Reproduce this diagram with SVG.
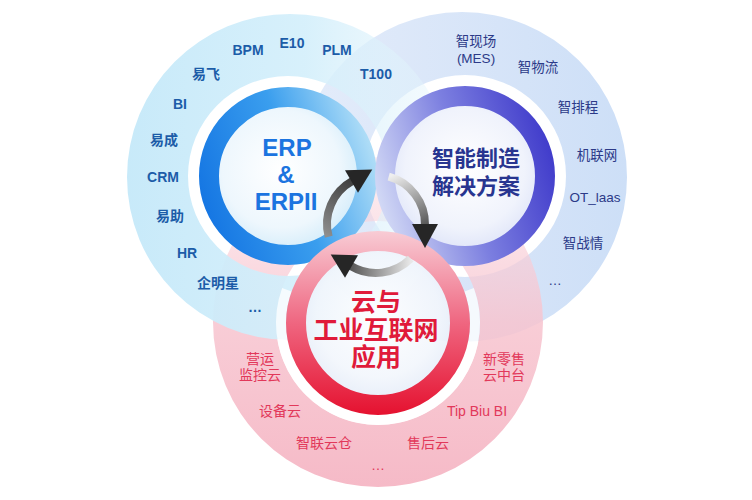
<svg xmlns="http://www.w3.org/2000/svg" width="752" height="500" viewBox="0 0 752 500">
<defs>
<linearGradient id="gBlueBig" gradientUnits="userSpaceOnUse" x1="127" y1="177" x2="453" y2="177">
<stop offset="0" stop-color="#c6e9f9" stop-opacity="0.97"/>
<stop offset="0.55" stop-color="#d4effb" stop-opacity="0.92"/>
<stop offset="1" stop-color="#e6f5fc" stop-opacity="0.35"/>
</linearGradient>
<linearGradient id="gPurpleBig" gradientUnits="userSpaceOnUse" x1="627" y1="177" x2="297" y2="177">
<stop offset="0" stop-color="#cddff7"/>
<stop offset="1" stop-color="#e4ecfa"/>
</linearGradient>
<linearGradient id="gPinkBig" gradientUnits="userSpaceOnUse" x1="378" y1="487" x2="378" y2="157">
<stop offset="0" stop-color="#f5b6c4" stop-opacity="0.95"/>
<stop offset="0.5" stop-color="#f7c4cf" stop-opacity="0.85"/>
<stop offset="1" stop-color="#fadbe2" stop-opacity="0.45"/>
</linearGradient>
<linearGradient id="gErpRing" gradientUnits="userSpaceOnUse" x1="200" y1="190" x2="378" y2="130">
<stop offset="0" stop-color="#1677e3"/>
<stop offset="0.5" stop-color="#3a9eee"/>
<stop offset="1" stop-color="#bfe6f8"/>
</linearGradient>
<linearGradient id="gMfgRing" gradientUnits="userSpaceOnUse" x1="556" y1="150" x2="375" y2="205">
<stop offset="0" stop-color="#3e39ca"/>
<stop offset="0.5" stop-color="#7c7fe0"/>
<stop offset="1" stop-color="#d6ddf6"/>
</linearGradient>
<linearGradient id="gCloudRing" gradientUnits="userSpaceOnUse" x1="378" y1="415" x2="378" y2="231">
<stop offset="0" stop-color="#e5112f"/>
<stop offset="0.5" stop-color="#ef6680"/>
<stop offset="1" stop-color="#f8ccd5"/>
</linearGradient>
<radialGradient id="gErpIn" cx="0.45" cy="0.45" r="0.6">
<stop offset="0" stop-color="#ffffff"/>
<stop offset="0.7" stop-color="#eef7fd"/>
<stop offset="1" stop-color="#d3ecfa"/>
</radialGradient>
<radialGradient id="gMfgIn" cx="0.5" cy="0.45" r="0.6">
<stop offset="0" stop-color="#ffffff"/>
<stop offset="0.7" stop-color="#f0f3fc"/>
<stop offset="1" stop-color="#dde3f8"/>
</radialGradient>
<radialGradient id="gCloudIn" cx="0.5" cy="0.45" r="0.6">
<stop offset="0" stop-color="#ffffff"/>
<stop offset="0.7" stop-color="#f2f6fc"/>
<stop offset="1" stop-color="#e4ebf8"/>
</radialGradient>
<linearGradient id="gArrA" gradientUnits="userSpaceOnUse" x1="329" y1="237" x2="372" y2="170">
<stop offset="0" stop-color="#8e8e8e"/>
<stop offset="1" stop-color="#262626"/>
</linearGradient>
<linearGradient id="gArrB" gradientUnits="userSpaceOnUse" x1="389" y1="177" x2="425" y2="248">
<stop offset="0" stop-color="#efefef"/>
<stop offset="1" stop-color="#242424"/>
</linearGradient>
<linearGradient id="gArrC" gradientUnits="userSpaceOnUse" x1="411" y1="259" x2="331" y2="254">
<stop offset="0" stop-color="#e8e8e8"/>
<stop offset="1" stop-color="#242424"/>
</linearGradient>
</defs>
<style>
text { font-family: "Liberation Sans", "Noto Sans CJK SC", sans-serif; text-anchor: middle; }
.ring { fill: none; stroke-width: 20; }
.halo { fill: none; stroke: #ffffff; stroke-width: 10; stroke-opacity: 0.75; }
.erpItem { font-size: 14px; font-weight: bold; fill: #1c5ca8; }
.mfgItem { font-size: 13.5px; fill: #2c3a88; }
.cloudItem { font-size: 14px; fill: #e2385a; }
.erpTitle { font-size: 24px; font-weight: bold; fill: #1b74e0; }
.mfgTitle { font-size: 22px; font-weight: bold; fill: #283590; }
.cloudTitle { font-size: 25px; font-weight: bold; fill: #e01a3a; }
.arc { fill: none; stroke-width: 8; }
.head { fill: #262626; }
</style>

<g id="backdrop">
<path fill="url(#gPurpleBig)" fill-rule="evenodd" d="M297 177a165 165 0 1 0 330 0a165 165 0 1 0 -330 0Z M364 176a101 101 0 1 0 202 0a101 101 0 1 0 -202 0Z"/>
<path fill="url(#gPinkBig)" fill-rule="evenodd" d="M213 322a165 165 0 1 0 330 0a165 165 0 1 0 -330 0Z M276 323a102 102 0 1 0 204 0a102 102 0 1 0 -204 0Z"/>
<path fill="url(#gBlueBig)" fill-rule="evenodd" d="M127 177a163 163 0 1 0 326 0a163 163 0 1 0 -326 0Z M188 176a100 100 0 1 0 200 0a100 100 0 1 0 -200 0Z"/>
</g>

<g id="node-erp">
<circle cx="288" cy="176" r="70" fill="url(#gErpIn)"/>
<circle class="ring" cx="288" cy="176" r="79" stroke="url(#gErpRing)"/>
<text class="erpTitle" x="287" y="155.5">ERP</text>
<text class="erpTitle" x="286" y="182.5">&amp;</text>
<text class="erpTitle" x="286" y="209.5">ERPII</text>
<text class="erpItem" x="248" y="55">BPM</text>
<text class="erpItem" x="292" y="48">E10</text>
<text class="erpItem" x="337" y="55">PLM</text>
<text class="erpItem" x="376" y="79">T100</text>
<text class="erpItem" x="206" y="79">易飞</text>
<text class="erpItem" x="180" y="109">BI</text>
<text class="erpItem" x="164" y="145">易成</text>
<text class="erpItem" x="163" y="182">CRM</text>
<text class="erpItem" x="170" y="221">易助</text>
<text class="erpItem" x="187" y="258">HR</text>
<text class="erpItem" x="218" y="288">企明星</text>
<text class="erpItem" x="255" y="312">…</text>
</g>

<g id="node-mfg">
<circle cx="465" cy="176" r="71" fill="url(#gMfgIn)"/>
<circle class="ring" cx="465" cy="176" r="80" stroke="url(#gMfgRing)"/>
<text class="mfgTitle" x="476" y="166">智能制造</text>
<text class="mfgTitle" x="476" y="194">解决方案</text>
<text class="mfgItem" x="476" y="46">智现场</text>
<text class="mfgItem" x="476" y="63">(MES)</text>
<text class="mfgItem" x="538" y="72">智物流</text>
<text class="mfgItem" x="578" y="112">智排程</text>
<text class="mfgItem" x="597" y="160">机联网</text>
<text class="mfgItem" x="595" y="202" font-size="13">OT_laas</text>
<text class="mfgItem" x="583" y="248">智战情</text>
<text class="mfgItem" x="555" y="285">…</text>
</g>

<g id="node-cloud">
<path class="halo" d="M469.15 289.82 A97 97 0 1 1 286.85 289.82"/>
<circle cx="378" cy="323" r="73" fill="url(#gCloudIn)" fill-opacity="0.9"/>
<circle class="ring" cx="378" cy="323" r="82" stroke="url(#gCloudRing)"/>
<text class="cloudTitle" x="376" y="311">云与</text>
<text class="cloudTitle" x="376" y="339">工业互联网</text>
<text class="cloudTitle" x="376" y="366">应用</text>
<text class="cloudItem" x="260" y="364">营运</text>
<text class="cloudItem" x="260" y="380">监控云</text>
<text class="cloudItem" x="504" y="364">新零售</text>
<text class="cloudItem" x="504" y="380">云中台</text>
<text class="cloudItem" x="280" y="416">设备云</text>
<text class="cloudItem" x="477" y="416" font-size="13">Tip Biu BI</text>
<text class="cloudItem" x="324" y="448">智联云仓</text>
<text class="cloudItem" x="428" y="448">售后云</text>
<text class="cloudItem" x="378" y="470">…</text>
</g>

<g id="connectors">
<path class="arc" stroke="url(#gArrA)" d="M328.67 236.68 A49 49 0 0 1 352.3 181.1"/>
<polygon class="head" points="372.3,169.6 345.0,170.3 358.0,192.8"/>
<path class="arc" stroke="url(#gArrB)" d="M388.68 176.67 A49 49 0 0 1 425 225"/>
<polygon class="head" points="425,248 438,224 412,224"/>
<path class="arc" stroke="url(#gArrC)" d="M410.65 258.65 A49 49 0 0 1 350.8 266"/>
<polygon class="head" points="330.7,254.4 345.0,277.7 358.0,255.2"/>
</g>
</svg>
